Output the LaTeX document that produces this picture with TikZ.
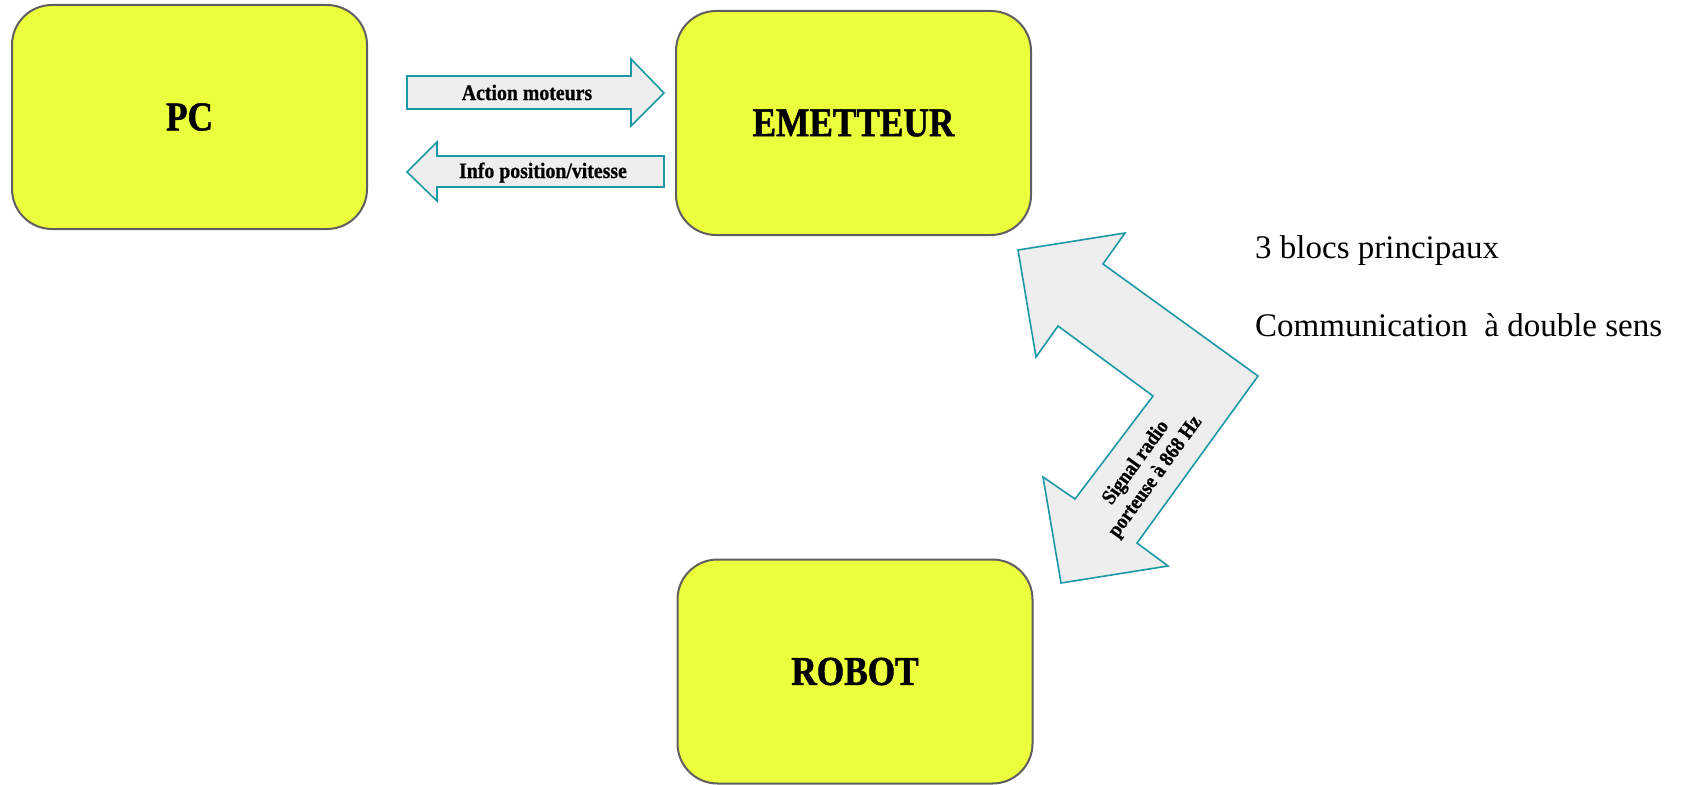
\documentclass[tikz,border=0pt]{standalone}
\usepackage{fontspec}
\setmainfont{Liberation Serif}
\newfontfamily\blk[FakeStretch=0.86,FakeBold=1.2]{Liberation Serif}
\newfontfamily\lbl[FakeStretch=0.9,FakeBold=0.8]{Liberation Serif}
\definecolor{boxfill}{HTML}{ECFF3D}
\definecolor{boxline}{HTML}{5F5F5F}
\definecolor{arrfill}{HTML}{EEEEEE}
\definecolor{arrline}{HTML}{1B98A6}
\begin{document}
\begin{tikzpicture}[x=1pt,y=-1pt,
 block/.style={draw=boxline, line width=2pt, fill=boxfill, rounded corners=40pt,
   minimum width=355pt, minimum height=224pt, inner sep=0pt,
   font=\blk\bfseries\fontsize{41}{41}\selectfont},
 fat/.style={draw=arrline, fill=arrfill, line width=1.6pt, line join=miter},
 alabel/.style={font=\lbl\bfseries\fontsize{22}{22}\selectfont, inner sep=0pt},
 note/.style={font=\fontsize{33}{33}\selectfont, anchor=base west, inner sep=0pt}]
\useasboundingbox (0,0) rectangle (1685,784);

\node[block] (pc) at (189.5,117) {PC};
\node[block] (em) at (853.5,123) {EMETTEUR};
\node[block] (rob) at (855,671.5) {ROBOT};

% PC -> EMETTEUR
\draw[fat] (407,76) -- (631,76) -- (631,59) -- (664,93) -- (631,126) -- (631,109) -- (407,109) -- cycle;
\node[alabel, anchor=base] (act) at (527,100) {Action moteurs};

% EMETTEUR -> PC
\draw[fat] (664,156) -- (437,156) -- (437,142) -- (407,172) -- (437,201) -- (437,187) -- (664,187) -- cycle;
\node[alabel, anchor=base] (inf) at (543,178) {Info position/vitesse};

% EMETTEUR <-> ROBOT
\draw[fat] (1018,250) -- (1125,233) -- (1103,264) -- (1258,376) -- (1137,543) -- (1168,566)
  -- (1061,583) -- (1043,477) -- (1075,499) -- (1153,396) -- (1058,326) -- (1036,357) -- cycle;
\node[alabel, rotate=54, align=center, font=\lbl\bfseries\fontsize{21}{24}\selectfont] (sig) at (1146,470)
  {Signal radio\\porteuse à 868 Hz};

\node[note] (n1) at (1255,258) {3 blocs principaux};
\node[note] (n2) at (1255,336) {Communication\ \ à double sens};
\end{tikzpicture}
\end{document}
